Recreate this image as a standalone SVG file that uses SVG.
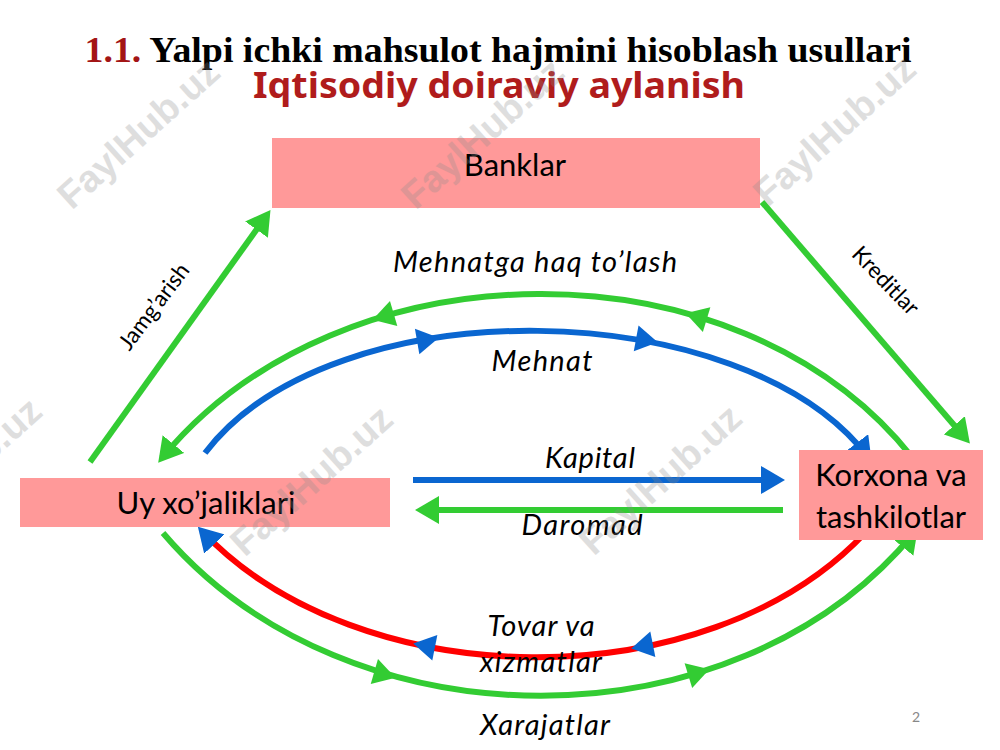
<svg xmlns="http://www.w3.org/2000/svg" xmlns:xlink="http://www.w3.org/1999/xlink" width="1000" height="750" viewBox="0 0 1000 750">
<style>
.box{fill:#ff9999;}
.nt{font-family:Lato,"Open Sans",sans-serif;font-size:31px;fill:#000;text-anchor:middle;}
.lb{font-family:Lato,"Open Sans",sans-serif;font-size:29px;font-style:italic;fill:#000;text-anchor:middle;}
.sl{font-family:Lato,"Open Sans",sans-serif;font-size:22.5px;fill:#000;text-anchor:middle;}
.g{fill:none;stroke:#33cc33;stroke-width:6;}
.b{fill:none;stroke:#0a66d0;stroke-width:6;}
.r{fill:none;stroke:#ff0000;stroke-width:6;}
.wm{font-family:"Liberation Sans",Arial,sans-serif;font-weight:bold;font-size:38px;fill:#8c8c8c;opacity:0.28;text-anchor:middle;}
</style>
<defs>
<marker id="ag" markerUnits="userSpaceOnUse" markerWidth="24" markerHeight="28" viewBox="0 0 24 28" refX="18" refY="14" orient="auto"><path d="M0,0 L24,14 L0,28 z" fill="#33cc33"/></marker>
<marker id="ab" markerUnits="userSpaceOnUse" markerWidth="24" markerHeight="28" viewBox="0 0 24 28" refX="18" refY="14" orient="auto"><path d="M0,0 L24,14 L0,28 z" fill="#0a66d0"/></marker>
<path id="tri" d="M13,0 L-9,-13 L-9,13 z"/>
</defs>
<rect width="1000" height="750" fill="#fff"/>
<g id="title">
<text x="498" y="62" font-family="'Liberation Serif','Times New Roman',serif" font-weight="bold" font-size="36" text-anchor="middle" textLength="827" lengthAdjust="spacingAndGlyphs"><tspan fill="#a31515">1.1.</tspan> Yalpi ichki mahsulot hajmini hisoblash usullari</text>
<text x="499" y="98" font-family="'Noto Sans','Open Sans',sans-serif" font-weight="bold" font-size="36" fill="#b01c1c" text-anchor="middle" textLength="492" lengthAdjust="spacingAndGlyphs">Iqtisodiy doiraviy aylanish</text>
</g>
<g id="connectors">
<line class="g" x1="90" y1="462" x2="267" y2="215" marker-end="url(#ag)"/>
<line class="g" x1="762" y1="202" x2="966" y2="439" marker-end="url(#ag)"/>
<line class="b" x1="413" y1="480" x2="779" y2="480" marker-end="url(#ab)"/>
<line class="g" x1="783" y1="510" x2="421" y2="510" marker-end="url(#ag)"/>
<path class="g" d="M912,457 C737,237 340,242 162,458" marker-end="url(#ag)"/>
<path class="b" d="M205,453 C333,285 744,294 868,457" marker-end="url(#ab)"/>
<path class="r" d="M865,533 C705,702 358,696 202,531" marker-end="url(#ab)"/>
<path class="g" d="M163,533 C348,750 735,750 914,533" marker-end="url(#ag)"/>
<use xlink:href="#tri" fill="#33cc33" transform="translate(385,316) rotate(163.7)"/>
<use xlink:href="#tri" fill="#33cc33" transform="translate(698,317) rotate(-163.2)"/>
<use xlink:href="#tri" fill="#0a66d0" transform="translate(426,340) rotate(-9.8)"/>
<use xlink:href="#tri" fill="#0a66d0" transform="translate(645,340) rotate(10.5)"/>
<use xlink:href="#tri" fill="#0a66d0" transform="translate(644,646) rotate(168.8)"/>
<use xlink:href="#tri" fill="#0a66d0" transform="translate(426,646) rotate(191.2)"/>
<use xlink:href="#tri" fill="#33cc33" transform="translate(383,674) rotate(16.2)"/>
<use xlink:href="#tri" fill="#33cc33" transform="translate(697,673) rotate(-17)"/>
<text class="sl" transform="translate(160,311) rotate(-53)">Jamg’arish</text>
<text class="sl" transform="translate(880,286) rotate(46)">Kreditlar</text>
<text class="lb" x="535" y="272" textLength="284" lengthAdjust="spacing">Mehnatga haq to’lash</text>
<text class="lb" x="542" y="371" textLength="101" lengthAdjust="spacing">Mehnat</text>
<text class="lb" x="590" y="468" textLength="90" lengthAdjust="spacing">Kapital</text>
<text class="lb" x="582" y="535" textLength="121" lengthAdjust="spacing">Daromad</text>
<text class="lb" x="541" y="636" textLength="107" lengthAdjust="spacing">Tovar va</text>
<text class="lb" x="541" y="672" textLength="122" lengthAdjust="spacing">xizmatlar</text>
<text class="lb" x="545" y="735" textLength="130" lengthAdjust="spacing">Xarajatlar</text>
</g>
<g id="banklar">
<rect class="box" x="272" y="138" width="488" height="70"/>
<text class="nt" x="515" y="176">Banklar</text>
</g>
<g id="uy">
<rect class="box" x="20" y="478" width="370" height="49"/>
<text class="nt" x="206" y="514">Uy xo’jaliklari</text>
</g>
<g id="korxona">
<rect class="box" x="799" y="450" width="184" height="90"/>
<text class="nt" x="891" y="486">Korxona va</text>
<text class="nt" x="891" y="528">tashkilotlar</text>
</g>
<text x="916" y="722" font-family="Lato,sans-serif" font-size="14" fill="#888" text-anchor="middle">2</text>
<g id="watermarks">
<text class="wm" transform="translate(147,143) rotate(-42)">FaylHub.uz</text>
<text class="wm" transform="translate(491,143) rotate(-42)">FaylHub.uz</text>
<text class="wm" transform="translate(843,140) rotate(-42)">FaylHub.uz</text>
<text class="wm" transform="translate(-31,482) rotate(-42)">FaylHub.uz</text>
<text class="wm" transform="translate(320,490) rotate(-42)">FaylHub.uz</text>
<text class="wm" transform="translate(669,489) rotate(-42)">FaylHub.uz</text>
</g>
</svg>
